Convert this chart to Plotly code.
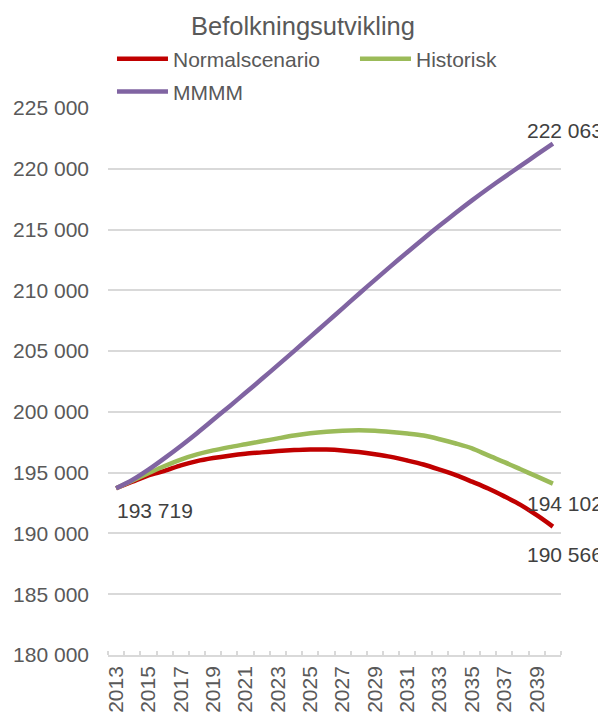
import plotly.graph_objects as go

years = list(range(2013, 2041))

normal = [193719, 194250, 194780, 195150, 195600, 195950, 196200, 196400, 196560, 196670,
          196780, 196860, 196910, 196900, 196830, 196700, 196520, 196300, 196000, 195670,
          195250, 194800, 194260, 193700, 193050, 192350, 191500, 190566]

historisk = [193719, 194330, 194950, 195550, 196080, 196500, 196830, 197100, 197340, 197580,
             197820, 198050, 198240, 198370, 198450, 198480, 198450, 198350, 198220, 198050,
             197750, 197400, 197000, 196420, 195870, 195280, 194690, 194102]

mmmm = [193719, 194400, 195250, 196200, 197200, 198250, 199350, 200450, 201570, 202700,
        203850, 205000, 206170, 207340, 208520, 209700, 210860, 212010, 213140, 214250,
        215330, 216380, 217400, 218380, 219320, 220230, 221160, 222063]

series_names = ["Normalscenario", "Historisk", "MMMM"]
series_colors = ["#C00000", "#9BBB59", "#8064A2"]
x_labels = [str(y) for y in range(2013, 2040, 2)]
y_ticks = list(range(180000, 225001, 5000))

FONT = "Liberation Sans, Arial, sans-serif"
FS = 21

def fmt(v):
    return f"{v:,}".replace(",", " ")

fig = go.Figure()
legend_ids = ["legend", "legend2", "legend3"]
for name, vals, col, lg in zip(series_names, [normal, historisk, mmmm], series_colors, legend_ids):
    fig.add_trace(go.Scatter(
        x=years, y=vals, name=name, mode="lines", legend=lg,
        line=dict(color=col, width=4.5, shape="spline", smoothing=0.8),
        hoverinfo="skip",
    ))

annots = [
    dict(x=years[0], y=normal[0], text=fmt(normal[0]), xanchor="left", yanchor="middle", yshift=-22, xshift=-1),
    dict(x=years[-1], y=mmmm[-1], text=fmt(mmmm[-1]), xanchor="center", yanchor="middle", yshift=13, xshift=12),
    dict(x=years[-1], y=historisk[-1], text=fmt(historisk[-1]), xanchor="center", yanchor="middle", yshift=-20, xshift=12),
    dict(x=years[-1], y=normal[-1], text=fmt(normal[-1]), xanchor="center", yanchor="middle", yshift=-28, xshift=12),
]
for a in annots:
    a.update(xref="x", yref="y", showarrow=False, font=dict(family=FONT, size=FS, color="#404040"))

def leg(x, y):
    return dict(orientation="h", x=x, xanchor="left", y=y, yanchor="middle",
                font=dict(family=FONT, size=FS, color="#595959"),
                itemwidth=51, bgcolor="rgba(0,0,0,0)", borderwidth=0)

fig.update_layout(
    width=598, height=707,
    margin=dict(l=100, r=45, t=100, b=60, pad=0),
    paper_bgcolor="white", plot_bgcolor="white",
    separators=", ",
    font=dict(family=FONT, size=FS, color="#595959"),
    title=dict(text="Befolkningsutvikling", x=0.4933, xanchor="center", y=0.9745, yanchor="middle",
               xref="container", yref="container",
               font=dict(family=FONT, size=25.5, color="#595959")),
    showlegend=True,
    legend=leg(0.0088, 1.0896),
    legend2=leg(0.5452, 1.0896),
    legend3=leg(0.0088, 1.0293),
    annotations=annots,
)
fig.update_xaxes(
    range=[2012.5, 2040.5], tickmode="array", tickvals=[int(t) for t in x_labels], ticktext=x_labels,
    tickangle=-90, ticks="", showgrid=False, zeroline=False, automargin=False,
    showline=True, linecolor="#D9D9D9", linewidth=1.5,
    minor=dict(tick0=2012.5, dtick=1, ticks="inside", ticklen=4, tickcolor="#D9D9D9", tickwidth=1.5, showgrid=False),
    tickfont=dict(family=FONT, size=FS, color="#595959"),
    ticklabelstandoff=1,
)
fig.update_yaxes(
    range=[180000, 225000], tickmode="array", tickvals=y_ticks, tickformat=",d",
    showgrid=True, gridcolor="#D9D9D9", gridwidth=1.5, zeroline=False, showline=False, automargin=False,
    ticks="", tickfont=dict(family=FONT, size=FS, color="#595959"),
    ticklabelstandoff=18,
)
fig.write_html("out.html")
